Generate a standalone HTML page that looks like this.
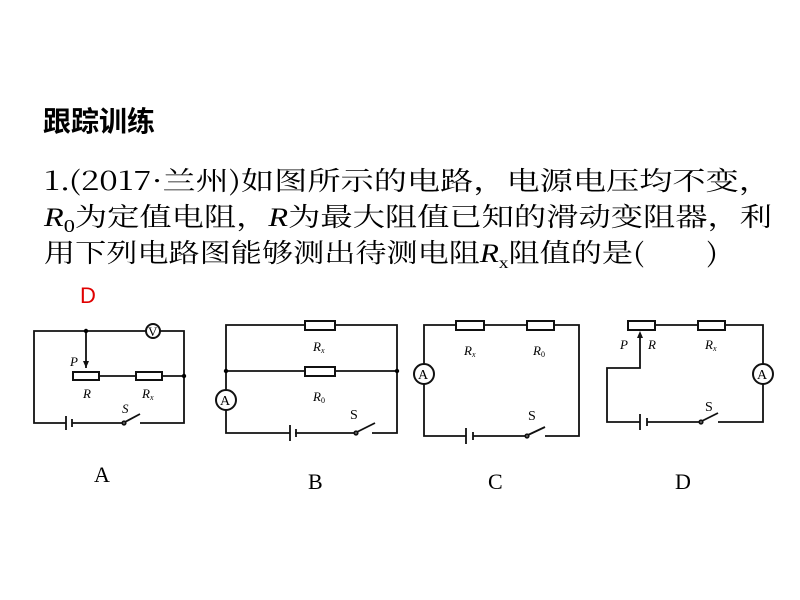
<!DOCTYPE html>
<html><head><meta charset="utf-8"><style>
html,body{margin:0;padding:0;background:#fff;width:800px;height:600px;overflow:hidden}
svg{display:block}
.t{font-family:"Noto Serif CJK SC","Liberation Serif",serif;font-size:26px;fill:#000}
.l{font-family:"Liberation Serif",serif;font-style:italic;font-size:13px;fill:#000}
.s{font-family:"Liberation Serif",serif;font-size:14px;fill:#000}
.w{stroke:#111;stroke-width:1.8;fill:none}
.r{stroke:#111;stroke-width:2;fill:#fff}
</style></head><body>
<svg width="800" height="600" viewBox="0 0 800 600">
<text x="43" y="131" font-family="Noto Sans CJK SC,sans-serif" font-size="28" font-weight="bold">跟踪训练</text>
<text class="t" x="44" y="190" textLength="728" lengthAdjust="spacingAndGlyphs">1.(2017·兰州)如图所示的电路，电源电压均不变，</text>
<text class="t" x="44" y="226" textLength="728" lengthAdjust="spacingAndGlyphs"><tspan font-style="italic" font-family="Liberation Serif">R</tspan><tspan font-size="18" dy="6" font-family="Liberation Serif">0</tspan><tspan dy="-6">为定值电阻，</tspan><tspan font-style="italic" font-family="Liberation Serif">R</tspan>为最大阻值已知的滑动变阻器，利</text>
<text class="t" x="44" y="262" textLength="674" lengthAdjust="spacingAndGlyphs">用下列电路图能够测出待测电阻<tspan font-style="italic" font-family="Liberation Serif">R</tspan><tspan font-size="16" dy="6" font-family="Liberation Serif">x</tspan><tspan dy="-6">阻值的是(　　)</tspan></text>
<text x="80" y="303" font-family="Liberation Sans,sans-serif" font-size="22" fill="#e00000">D</text>

<!-- A -->
<path class="w" d="M86,331 H34 V423 H66 M72,423 H124 M140,423 H184 V331 H160 M146,331 H86 V368 M99,376 H136 M162,376 H184"/>
<path d="M86,368 l-3,-7 h6z" fill="#111"/>
<rect class="r" x="73" y="372" width="26" height="8"/>
<rect class="r" x="136" y="372" width="26" height="8"/>
<circle cx="153" cy="331" r="7" class="r"/><text x="148" y="336" font-family="Liberation Serif" font-size="13">V</text>
<circle cx="86" cy="331" r="2.2"/><circle cx="184" cy="376" r="2.2"/>
<path stroke="#111" stroke-width="1.8" d="M66,416 V430 M72,419 V427"/>
<path class="w" d="M125,422 L140,414"/><circle cx="124" cy="423" r="1.6" class="r" stroke-width="1"/>
<text class="l" x="70" y="366">P</text><text class="l" x="83" y="398">R</text><text class="l" x="142" y="398">R<tspan font-size="8" dy="2">x</tspan></text><text class="l" x="122" y="413">S</text>

<!-- B -->
<path class="w" d="M226,390 V325 H305 M335,325 H397 V433 H372 M356,433 H295 M290,433 H226 V410 M226,371 H305 M335,371 H397"/>
<rect class="r" x="305" y="321" width="30" height="9"/>
<rect class="r" x="305" y="367" width="30" height="9"/>
<circle cx="226" cy="400" r="10" class="r"/><text x="220" y="405" font-family="Liberation Serif" font-size="14">A</text>
<circle cx="226" cy="371" r="2.2"/><circle cx="397" cy="371" r="2.2"/>
<path stroke="#111" stroke-width="1.8" d="M290,425 V441 M296,429 V437"/>
<path class="w" d="M357,432 L375,423"/><circle cx="356" cy="433" r="1.6" class="r" stroke-width="1"/>
<text class="l" x="313" y="351">R<tspan font-size="8" dy="2">x</tspan></text><text class="l" x="313" y="401">R<tspan font-size="8" dy="2" font-style="normal">0</tspan></text><text class="s" x="350" y="419">S</text>

<!-- C -->
<path class="w" d="M424,364 V325 H456 M484,325 H527 M554,325 H579 V436 H545 M527,436 H473 M466,436 H424 V384"/>
<rect class="r" x="456" y="321" width="28" height="9"/>
<rect class="r" x="527" y="321" width="27" height="9"/>
<circle cx="424" cy="374" r="10" class="r"/><text x="418" y="379" font-family="Liberation Serif" font-size="14">A</text>
<path stroke="#111" stroke-width="1.8" d="M466,428 V444 M473,432 V440"/>
<path class="w" d="M528,435 L545,427"/><circle cx="527" cy="436" r="1.6" class="r" stroke-width="1"/>
<text class="l" x="464" y="355">R<tspan font-size="8" dy="2">x</tspan></text><text class="l" x="533" y="355">R<tspan font-size="8" dy="2" font-style="normal">0</tspan></text><text class="s" x="528" y="420">S</text>

<!-- D -->
<path class="w" d="M655,325 H698 M725,325 H763 V364 M763,384 V422 H718 M701,422 H647 M640,422 H607 V368 H640 V334"/>
<path d="M640,331 l-3,7 h6z" fill="#111"/>
<rect class="r" x="628" y="321" width="27" height="9"/>
<rect class="r" x="698" y="321" width="27" height="9"/>
<circle cx="763" cy="374" r="10" class="r"/><text x="757" y="379" font-family="Liberation Serif" font-size="14">A</text>
<path stroke="#111" stroke-width="1.8" d="M640,414 V430 M647,418 V426"/>
<path class="w" d="M702,421 L718,413"/><circle cx="701" cy="422" r="1.6" class="r" stroke-width="1"/>
<text class="l" x="620" y="349">P</text><text class="l" x="648" y="349">R</text><text class="l" x="705" y="349">R<tspan font-size="8" dy="2">x</tspan></text><text class="s" x="705" y="411">S</text>

<g font-family="Liberation Serif,serif" font-size="22">
<text x="94" y="482">A</text><text x="308" y="489">B</text><text x="488" y="489">C</text><text x="675" y="489">D</text>
</g>
</svg>
</body></html>
